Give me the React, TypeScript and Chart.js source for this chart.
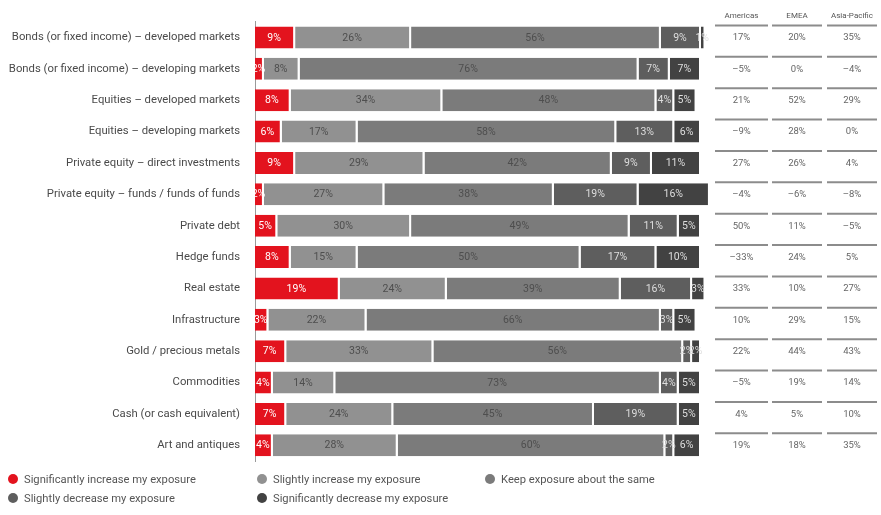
import React, { useEffect, useRef } from "react";
import { Chart, registerables } from "chart.js";

Chart.register(...registerables);

const categories = [
  "Bonds (or fixed income) – developed markets",
  "Bonds (or fixed income) – developing markets",
  "Equities – developed markets",
  "Equities – developing markets",
  "Private equity – direct investments",
  "Private equity – funds / funds of funds",
  "Private debt",
  "Hedge funds",
  "Real estate",
  "Infrastructure",
  "Gold / precious metals",
  "Commodities",
  "Cash (or cash equivalent)",
  "Art and antiques",
];

const sigIncrease = [9, 2, 8, 6, 9, 2, 5, 8, 19, 3, 7, 4, 7, 4];
const slightIncrease = [26, 8, 34, 17, 29, 27, 30, 15, 24, 22, 33, 14, 24, 28];
const keepSame = [56, 76, 48, 58, 42, 38, 49, 50, 39, 66, 56, 73, 45, 60];
const slightDecrease = [9, 7, 4, 13, 9, 19, 11, 17, 16, 3, 2, 4, 19, 2];
const sigDecrease = [1, 7, 5, 6, 11, 16, 5, 10, 3, 5, 2, 5, 5, 6];

const seriesNames = [
  "Significantly increase my exposure",
  "Slightly increase my exposure",
  "Keep exposure about the same",
  "Slightly decrease my exposure",
  "Significantly decrease my exposure",
];
const seriesColors = ["#e3131e", "#919191", "#7b7b7b", "#5e5e5e", "#424242"];
const seriesTextColors = ["#ffffff", "#4e4e4e", "#4e4e4e", "#dedede", "#dedede"];

const regionHeaders = ["Americas", "EMEA", "Asia-Pacific"];
const americas = [17, -5, 21, -9, 27, -4, 50, -33, 33, 10, 22, -5, 4, 19];
const emea = [20, 0, 52, 28, 26, -6, 11, 24, 10, 29, 44, 19, 5, 18];
const asiaPacific = [35, -4, 29, 0, 4, -8, -5, 5, 27, 15, 43, 14, 10, 35];

const FONT = "Roboto, 'Open Sans', sans-serif";

const fmt = (v: number) => (v < 0 ? "\u2013" + Math.abs(v) + "%" : v + "%");

const barLabelPlugin = {
  id: "barLabels",
  afterDatasetsDraw(chart: any) {
    const ctx = chart.ctx;
    ctx.save();
    ctx.font = "10.5px " + FONT;
    ctx.textAlign = "center";
    ctx.textBaseline = "middle";
    chart.data.datasets.forEach((ds: any, di: number) => {
      const meta = chart.getDatasetMeta(di);
      meta.data.forEach((el: any, i: number) => {
        const { x, base, y } = el.getProps(["x", "base", "y"], true);
        ctx.fillStyle = seriesTextColors[di];
        ctx.fillText(ds.data[i] + "%", (x + base) / 2 - 1, y + 0.5);
      });
    });
    ctx.restore();
  },
};

const tablePlugin = {
  id: "regionTable",
  afterDraw(chart: any) {
    const ctx = chart.ctx;
    const yScale = chart.scales.y;
    const cols = [
      { x0: 715, x1: 768, vals: americas },
      { x0: 772, x1: 822, vals: emea },
      { x0: 827, x1: 877, vals: asiaPacific },
    ];
    ctx.save();
    ctx.textAlign = "center";
    ctx.textBaseline = "middle";
    const firstY = yScale.getPixelForValue(0);
    cols.forEach((c, ci) => {
      const cx = (c.x0 + c.x1) / 2;
      ctx.fillStyle = "#555";
      ctx.font = "8px " + FONT;
      ctx.fillText(regionHeaders[ci], cx, firstY - 21);
      c.vals.forEach((v, i) => {
        const cy = yScale.getPixelForValue(i);
        ctx.strokeStyle = "#8c8c8c";
        ctx.lineWidth = 2;
        ctx.beginPath();
        ctx.moveTo(c.x0, cy - 12);
        ctx.lineTo(c.x1, cy - 12);
        ctx.stroke();
        ctx.fillStyle = "#666";
        ctx.font = "9.5px " + FONT;
        ctx.fillText(fmt(v), cx, cy + 0.5);
      });
    });
    ctx.restore();
  },
};

export default function App() {
  const canvasRef = useRef<HTMLCanvasElement | null>(null);

  useEffect(() => {
    document.body.style.margin = "0";
    const seriesData = [sigIncrease, slightIncrease, keepSame, slightDecrease, sigDecrease];
    const chart = new Chart(canvasRef.current as HTMLCanvasElement, {
      type: "bar",
      data: {
        labels: categories,
        datasets: seriesData.map((d, i) => ({
          label: seriesNames[i],
          data: d,
          backgroundColor: seriesColors[i],
          borderColor: "#ffffff",
          borderWidth: { top: 0, bottom: 0, left: 0, right: 2 },
          borderSkipped: false,
          barPercentage: 0.7,
          categoryPercentage: 1,
          clip: false,
        })),
      },
      options: {
        indexAxis: "y",
        responsive: false,
        animation: false,
        layout: { padding: { left: 0, right: 180, top: 18, bottom: 54 } },
        plugins: { legend: { display: false }, tooltip: { enabled: false } },
        scales: {
          x: { stacked: true, display: false, min: 0, max: 100 },
          y: {
            stacked: true,
            grid: { display: false, drawTicks: false },
            border: { display: true, color: "#9a9a9a", width: 1 },
            afterFit(scale: any) {
              scale.width = 255;
            },
            ticks: {
              padding: 15,
              color: "#4a4a4a",
              font: { family: FONT, size: 11.3 },
            },
          },
        },
      } as any,
      plugins: [barLabelPlugin, tablePlugin],
    });
    return () => chart.destroy();
  }, []);

  const legendPos = [
    { left: 8, top: 472 },
    { left: 257, top: 472 },
    { left: 485, top: 472 },
    { left: 8, top: 491 },
    { left: 257, top: 491 },
  ];

  return (
    <div style={{ position: "relative", width: 881, height: 515, background: "#fff", overflow: "hidden" }}>
      <canvas ref={canvasRef} width={881} height={515} style={{ display: "block" }} />
      {seriesNames.map((name, i) => (
        <div
          key={name}
          style={{
            position: "absolute",
            left: legendPos[i].left,
            top: legendPos[i].top,
            display: "flex",
            alignItems: "center",
            fontFamily: FONT,
            fontSize: 11.2,
            color: "#555",
            whiteSpace: "nowrap",
            height: 14,
          }}
        >
          <span
            style={{
              display: "inline-block",
              width: 10,
              height: 10,
              borderRadius: "50%",
              background: seriesColors[i],
              marginRight: 6,
            }}
          />
          {name}
        </div>
      ))}
    </div>
  );
}
